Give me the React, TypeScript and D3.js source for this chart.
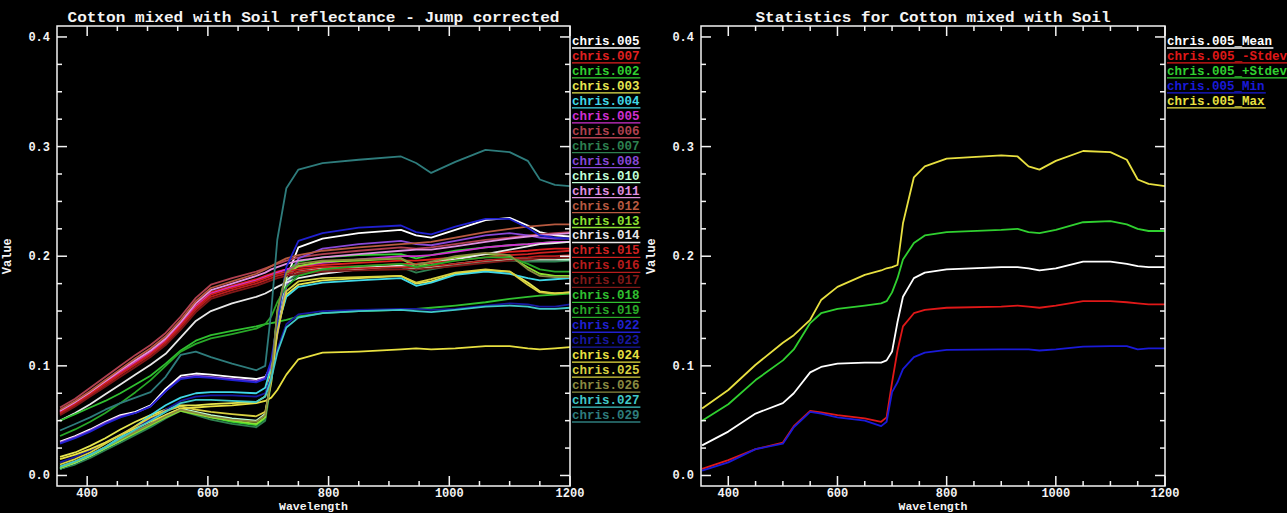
import * as d3 from 'd3';
import { useEffect, useRef } from 'react';

// wavelength grid (nm) used by the left panel spectra
const wavelengths = [355, 380, 405, 430, 455, 480, 505, 530, 555, 580, 605, 640, 680, 695, 705, 715, 730, 750, 790, 850, 920, 945, 970, 1010, 1060, 1100, 1130, 1150, 1175, 1200];

const legendNames = ['chris.005', 'chris.007', 'chris.002', 'chris.003', 'chris.004', 'chris.005', 'chris.006', 'chris.007', 'chris.008', 'chris.010', 'chris.011', 'chris.012', 'chris.013', 'chris.014', 'chris.015', 'chris.016', 'chris.017', 'chris.018', 'chris.019', 'chris.022', 'chris.023', 'chris.024', 'chris.025', 'chris.026', 'chris.027', 'chris.029'];
const legendColors = ['#ffffff', '#e02020', '#30d030', '#e6e650', '#40d8e8', '#d030d0', '#b04050', '#2e8050', '#8848d8', '#c0ffd8', '#e090e0', '#b85a40', '#8ce030', '#e8e8e8', '#d02020', '#b81c1c', '#801818', '#30c030', '#28a828', '#2020d0', '#1818a0', '#e8e040', '#d8d040', '#8a8a40', '#40c8c8', '#2e7c7c'];

const c005w = [0.031, 0.036, 0.042, 0.049, 0.055, 0.058, 0.064, 0.079, 0.091, 0.093, 0.092, 0.090, 0.088, 0.090, 0.100, 0.130, 0.180, 0.208, 0.216, 0.221, 0.224, 0.219, 0.217, 0.224, 0.233, 0.235, 0.228, 0.222, 0.219, 0.218];
const c007r = [0.058, 0.066, 0.075, 0.085, 0.095, 0.104, 0.113, 0.124, 0.139, 0.155, 0.167, 0.173, 0.179, 0.182, 0.184, 0.186, 0.188, 0.190, 0.192, 0.194, 0.196, 0.196, 0.197, 0.199, 0.202, 0.204, 0.205, 0.206, 0.207, 0.207];
const c002 = [0.006, 0.011, 0.017, 0.024, 0.031, 0.038, 0.045, 0.053, 0.060, 0.057, 0.053, 0.049, 0.046, 0.052, 0.090, 0.150, 0.186, 0.195, 0.199, 0.201, 0.202, 0.198, 0.201, 0.205, 0.208, 0.210, 0.211, 0.212, 0.213, 0.213];
const c003 = [0.017, 0.021, 0.027, 0.034, 0.042, 0.049, 0.055, 0.060, 0.064, 0.064, 0.065, 0.066, 0.067, 0.072, 0.095, 0.135, 0.165, 0.174, 0.178, 0.180, 0.182, 0.175, 0.177, 0.184, 0.187, 0.186, 0.176, 0.168, 0.166, 0.167];
const c004 = [0.006, 0.011, 0.018, 0.026, 0.035, 0.045, 0.055, 0.064, 0.071, 0.075, 0.076, 0.076, 0.075, 0.080, 0.100, 0.135, 0.163, 0.172, 0.176, 0.178, 0.180, 0.173, 0.176, 0.183, 0.186, 0.184, 0.180, 0.178, 0.179, 0.180];
const c005m = [0.058, 0.066, 0.075, 0.085, 0.094, 0.103, 0.112, 0.123, 0.138, 0.154, 0.166, 0.172, 0.178, 0.181, 0.183, 0.185, 0.188, 0.191, 0.194, 0.197, 0.200, 0.200, 0.201, 0.204, 0.208, 0.210, 0.211, 0.212, 0.213, 0.213];
const c006 = [0.062, 0.070, 0.080, 0.090, 0.100, 0.110, 0.119, 0.130, 0.145, 0.162, 0.174, 0.180, 0.186, 0.189, 0.191, 0.193, 0.196, 0.199, 0.202, 0.205, 0.208, 0.207, 0.208, 0.211, 0.215, 0.217, 0.219, 0.220, 0.221, 0.222];
const c007g = [0.006, 0.010, 0.016, 0.023, 0.030, 0.037, 0.044, 0.052, 0.059, 0.055, 0.051, 0.047, 0.044, 0.050, 0.085, 0.142, 0.176, 0.184, 0.187, 0.189, 0.190, 0.185, 0.188, 0.192, 0.195, 0.196, 0.195, 0.195, 0.195, 0.196];
const c008 = [0.030, 0.035, 0.041, 0.048, 0.054, 0.057, 0.063, 0.077, 0.089, 0.091, 0.090, 0.088, 0.086, 0.089, 0.100, 0.128, 0.172, 0.198, 0.207, 0.211, 0.214, 0.211, 0.210, 0.214, 0.219, 0.221, 0.219, 0.217, 0.216, 0.216];
const c010 = [0.007, 0.012, 0.018, 0.025, 0.032, 0.040, 0.047, 0.055, 0.061, 0.058, 0.055, 0.052, 0.050, 0.056, 0.090, 0.145, 0.178, 0.186, 0.189, 0.190, 0.191, 0.188, 0.190, 0.193, 0.196, 0.197, 0.197, 0.197, 0.197, 0.197];
const c011 = [0.059, 0.067, 0.076, 0.086, 0.096, 0.105, 0.114, 0.125, 0.140, 0.157, 0.169, 0.175, 0.182, 0.185, 0.188, 0.190, 0.193, 0.196, 0.199, 0.202, 0.205, 0.206, 0.206, 0.209, 0.213, 0.216, 0.218, 0.219, 0.220, 0.221];
const c012 = [0.060, 0.068, 0.077, 0.087, 0.097, 0.107, 0.116, 0.127, 0.142, 0.159, 0.171, 0.177, 0.184, 0.188, 0.191, 0.194, 0.198, 0.201, 0.205, 0.208, 0.211, 0.212, 0.213, 0.217, 0.222, 0.225, 0.227, 0.228, 0.229, 0.229];
const c013 = [0.007, 0.012, 0.018, 0.025, 0.032, 0.039, 0.046, 0.053, 0.059, 0.056, 0.053, 0.050, 0.047, 0.053, 0.090, 0.148, 0.183, 0.191, 0.195, 0.196, 0.198, 0.190, 0.194, 0.199, 0.202, 0.200, 0.190, 0.184, 0.182, 0.182];
const c014 = [0.050, 0.057, 0.065, 0.074, 0.083, 0.092, 0.101, 0.111, 0.126, 0.141, 0.150, 0.157, 0.163, 0.166, 0.169, 0.172, 0.176, 0.180, 0.184, 0.188, 0.192, 0.193, 0.194, 0.197, 0.202, 0.206, 0.209, 0.211, 0.212, 0.213];
const c015 = [0.057, 0.065, 0.074, 0.084, 0.093, 0.102, 0.111, 0.122, 0.137, 0.153, 0.165, 0.171, 0.177, 0.180, 0.182, 0.184, 0.186, 0.188, 0.190, 0.191, 0.193, 0.193, 0.194, 0.196, 0.199, 0.201, 0.202, 0.203, 0.204, 0.205];
const c016 = [0.056, 0.064, 0.073, 0.082, 0.092, 0.101, 0.110, 0.120, 0.135, 0.151, 0.163, 0.169, 0.175, 0.178, 0.180, 0.182, 0.184, 0.186, 0.188, 0.189, 0.190, 0.190, 0.191, 0.193, 0.196, 0.198, 0.199, 0.200, 0.200, 0.201];
const c017 = [0.055, 0.063, 0.072, 0.081, 0.090, 0.099, 0.108, 0.119, 0.133, 0.149, 0.161, 0.167, 0.173, 0.176, 0.178, 0.180, 0.182, 0.184, 0.186, 0.187, 0.188, 0.188, 0.189, 0.191, 0.194, 0.196, 0.197, 0.198, 0.198, 0.199];
const c018 = [0.050, 0.056, 0.062, 0.068, 0.075, 0.083, 0.091, 0.102, 0.114, 0.123, 0.128, 0.132, 0.136, 0.138, 0.139, 0.140, 0.142, 0.145, 0.148, 0.150, 0.151, 0.152, 0.153, 0.155, 0.158, 0.161, 0.163, 0.164, 0.165, 0.166];
const c019 = [0.036, 0.042, 0.049, 0.057, 0.066, 0.076, 0.087, 0.100, 0.113, 0.120, 0.125, 0.129, 0.134, 0.138, 0.145, 0.158, 0.172, 0.182, 0.188, 0.191, 0.193, 0.190, 0.192, 0.196, 0.199, 0.199, 0.193, 0.188, 0.186, 0.186];
const c022 = [0.029, 0.034, 0.040, 0.047, 0.053, 0.057, 0.063, 0.077, 0.088, 0.090, 0.089, 0.087, 0.085, 0.088, 0.105, 0.140, 0.190, 0.214, 0.221, 0.226, 0.228, 0.222, 0.220, 0.227, 0.234, 0.234, 0.226, 0.219, 0.217, 0.216];
const c023 = [0.012, 0.017, 0.023, 0.030, 0.037, 0.044, 0.051, 0.060, 0.068, 0.072, 0.073, 0.073, 0.072, 0.075, 0.090, 0.115, 0.138, 0.147, 0.150, 0.151, 0.152, 0.152, 0.151, 0.152, 0.155, 0.157, 0.156, 0.154, 0.154, 0.156];
const c024 = [0.015, 0.019, 0.024, 0.030, 0.037, 0.043, 0.049, 0.055, 0.061, 0.062, 0.063, 0.064, 0.066, 0.068, 0.071, 0.078, 0.092, 0.106, 0.112, 0.113, 0.115, 0.116, 0.115, 0.116, 0.118, 0.118, 0.116, 0.115, 0.116, 0.117];
const c025 = [0.010, 0.015, 0.021, 0.029, 0.037, 0.045, 0.053, 0.059, 0.063, 0.060, 0.058, 0.056, 0.054, 0.058, 0.085, 0.130, 0.168, 0.177, 0.180, 0.181, 0.182, 0.176, 0.179, 0.185, 0.188, 0.186, 0.174, 0.167, 0.166, 0.167];
const c026 = [0.008, 0.013, 0.019, 0.026, 0.033, 0.040, 0.047, 0.054, 0.060, 0.057, 0.054, 0.051, 0.049, 0.055, 0.090, 0.150, 0.185, 0.193, 0.196, 0.197, 0.198, 0.192, 0.195, 0.200, 0.203, 0.201, 0.188, 0.182, 0.181, 0.181];
const c027 = [0.008, 0.013, 0.019, 0.026, 0.034, 0.042, 0.050, 0.058, 0.066, 0.069, 0.069, 0.068, 0.067, 0.072, 0.088, 0.112, 0.135, 0.144, 0.148, 0.150, 0.151, 0.150, 0.149, 0.151, 0.154, 0.155, 0.154, 0.152, 0.152, 0.153];
const c029 = [0.041, 0.047, 0.053, 0.060, 0.066, 0.071, 0.076, 0.090, 0.110, 0.113, 0.108, 0.102, 0.096, 0.100, 0.150, 0.215, 0.262, 0.279, 0.285, 0.288, 0.291, 0.285, 0.276, 0.286, 0.297, 0.295, 0.287, 0.270, 0.265, 0.264];

const spectra = [c005w, c007r, c002, c003, c004, c005m, c006, c007g, c008, c010, c011, c012, c013, c014, c015, c016, c017, c018, c019, c022, c023, c024, c025, c026, c027, c029];

// statistics panel
const statWavelengths = [352, 400, 450, 500, 520, 550, 570, 600, 650, 680, 690, 700, 710, 720, 740, 760, 800, 900, 930, 950, 970, 1000, 1050, 1100, 1130, 1150, 1170, 1200];
const statNames = ['chris.005_Mean', 'chris.005_-Stdev', 'chris.005_+Stdev', 'chris.005_Min', 'chris.005_Max'];
const statColors = ['#ffffff', '#e01818', '#30d030', '#1a1ad8', '#e8e040'];
const statMean = [0.0275, 0.040, 0.0565, 0.066, 0.075, 0.094, 0.099, 0.102, 0.103, 0.103, 0.105, 0.113, 0.140, 0.163, 0.180, 0.185, 0.188, 0.190, 0.190, 0.189, 0.187, 0.189, 0.195, 0.195, 0.193, 0.191, 0.190, 0.190];
const statMinusSd = [0.006, 0.014, 0.024, 0.030, 0.045, 0.059, 0.0575, 0.055, 0.052, 0.049, 0.053, 0.085, 0.114, 0.136, 0.148, 0.151, 0.153, 0.154, 0.155, 0.154, 0.153, 0.155, 0.159, 0.159, 0.158, 0.157, 0.156, 0.156];
const statPlusSd = [0.050, 0.065, 0.087, 0.105, 0.115, 0.139, 0.148, 0.152, 0.155, 0.157, 0.159, 0.167, 0.180, 0.197, 0.212, 0.219, 0.222, 0.224, 0.225, 0.222, 0.221, 0.224, 0.231, 0.232, 0.229, 0.225, 0.223, 0.223];
const statMin = [0.0045, 0.012, 0.024, 0.029, 0.044, 0.058, 0.0565, 0.053, 0.050, 0.045, 0.049, 0.076, 0.085, 0.097, 0.108, 0.112, 0.1145, 0.115, 0.115, 0.115, 0.114, 0.115, 0.1175, 0.118, 0.118, 0.115, 0.116, 0.116];
const statMax = [0.061, 0.078, 0.101, 0.121, 0.128, 0.142, 0.160, 0.172, 0.183, 0.187, 0.189, 0.190, 0.192, 0.230, 0.272, 0.282, 0.289, 0.292, 0.291, 0.282, 0.279, 0.287, 0.296, 0.295, 0.288, 0.270, 0.266, 0.264];
const statSeries = [statMean, statMinusSd, statPlusSd, statMin, statMax];

const xTicks = [400, 600, 800, 1000, 1200];
const yTicks = [0.0, 0.1, 0.2, 0.3, 0.4];

const FONT = "'Liberation Mono', 'DejaVu Sans Mono', monospace";

const drawPanel = (svg, cfg) => {
    const top = 26, bottom = 486;
    const x = d3.scaleLinear().domain([350, 1200]).range([cfg.left, cfg.right]);
    const y = d3.scaleLinear().domain([-0.0096, 0.41]).range([bottom, top]);
    const g = svg.append('g');

    const clipId = 'clip' + cfg.left;
    g.append('clipPath').attr('id', clipId)
        .append('rect').attr('x', cfg.left).attr('y', top).attr('width', cfg.right - cfg.left).attr('height', bottom - top);

    const line = d3.line()
        .x(d => x(d[0]))
        .y(d => y(d[1]));

    const lines = g.append('g').attr('clip-path', `url(#${clipId})`);
    cfg.series.forEach((vals, i) => {
        lines.append('path')
            .datum(cfg.xs.map((w, j) => [w, vals[j]]))
            .attr('d', line)
            .attr('fill', 'none')
            .attr('stroke', cfg.colors[i])
            .attr('stroke-width', 1.8)
            .attr('stroke-linejoin', 'round');
    });

    // box with inward ticks on all sides
    g.append('rect')
        .attr('x', cfg.left).attr('y', top)
        .attr('width', cfg.right - cfg.left).attr('height', bottom - top)
        .attr('fill', 'none').attr('stroke', '#f4f4f4').attr('stroke-width', 1.5);

    const ticksG = g.append('g').attr('stroke', '#f4f4f4').attr('stroke-width', 1.5);
    const xMinor = d3.range(450, 1200, 50).filter(v => v % 200 !== 0);
    const yMinor = d3.range(0.025, 0.4, 0.025).filter(v => Math.abs(v * 10 - Math.round(v * 10)) > 0.01);
    xTicks.concat(xMinor).forEach(v => {
        const len = xTicks.includes(v) ? 10 : 5;
        ticksG.append('line').attr('x1', x(v)).attr('x2', x(v)).attr('y1', bottom).attr('y2', bottom - len);
        ticksG.append('line').attr('x1', x(v)).attr('x2', x(v)).attr('y1', top).attr('y2', top + len);
    });
    yTicks.concat(yMinor).forEach(v => {
        const len = yTicks.includes(v) ? 10 : 5;
        ticksG.append('line').attr('x1', cfg.left).attr('x2', cfg.left + len).attr('y1', y(v)).attr('y2', y(v));
        ticksG.append('line').attr('x1', cfg.right).attr('x2', cfg.right - len).attr('y1', y(v)).attr('y2', y(v));
    });

    const textStyle = sel => sel.attr('fill', '#f4f4f4').attr('font-family', FONT).attr('font-weight', 'bold');

    yTicks.forEach(v => {
        g.append('text').call(textStyle)
            .attr('x', cfg.left - 7).attr('y', y(v) + 4)
            .attr('text-anchor', 'end').attr('font-size', 12)
            .text(d3.format('.1f')(v));
    });
    xTicks.forEach(v => {
        g.append('text').call(textStyle)
            .attr('x', x(v)).attr('y', 497)
            .attr('text-anchor', 'middle').attr('font-size', 12)
            .text(v);
    });

    g.append('text').call(textStyle)
        .attr('x', (cfg.left + cfg.right) / 2).attr('y', 509.5)
        .attr('text-anchor', 'middle').attr('font-size', 11.5)
        .text('Wavelength');
    g.append('text').call(textStyle)
        .attr('transform', `translate(${cfg.left - 46},${y(0.2)}) rotate(-90)`)
        .attr('text-anchor', 'middle').attr('font-size', 12)
        .text('Value');
    g.append('text').call(textStyle)
        .attr('x', (cfg.left + cfg.right) / 2).attr('y', 22)
        .attr('text-anchor', 'middle').attr('font-size', 15)
        .attr('textLength', cfg.titleWidth).attr('lengthAdjust', 'spacingAndGlyphs')
        .text(cfg.title);

    // legend
    cfg.names.forEach((name, i) => {
        const ly = 41 + i * 14.96;
        g.append('text')
            .attr('x', cfg.right + 2).attr('y', ly + 4)
            .attr('fill', cfg.colors[i]).attr('font-family', FONT).attr('font-weight', 'bold')
            .attr('font-size', 12.5)
            .text(name);
        g.append('line')
            .attr('x1', cfg.right + 2).attr('x2', cfg.right + 2 + name.length * 7.6)
            .attr('y1', ly + 7).attr('y2', ly + 7)
            .attr('stroke', cfg.colors[i]).attr('stroke-width', 1.3);
    });
};

export default function App() {
    const ref = useRef(null);

    useEffect(() => {
        if (!ref.current) return;
        const svg = d3.select(ref.current);
        svg.selectAll('*').remove();
        svg.append('rect').attr('width', 1287).attr('height', 513).attr('fill', '#000');

        drawPanel(svg, {
            left: 57, right: 570,
            title: 'Cotton mixed with Soil reflectance - Jump corrected',
            titleWidth: 492,
            xs: wavelengths, series: spectra, colors: legendColors, names: legendNames,
        });
        drawPanel(svg, {
            left: 701, right: 1165,
            title: 'Statistics for Cotton mixed with Soil',
            titleWidth: 355,
            xs: statWavelengths, series: statSeries, colors: statColors, names: statNames,
        });
    }, []);

    return (
        <div style={{ position: 'fixed', left: 0, top: 0, width: 1287, height: 513, background: '#000', overflow: 'hidden' }}>
            <svg ref={ref} width={1287} height={513} style={{ display: 'block' }} />
        </div>
    );
}
